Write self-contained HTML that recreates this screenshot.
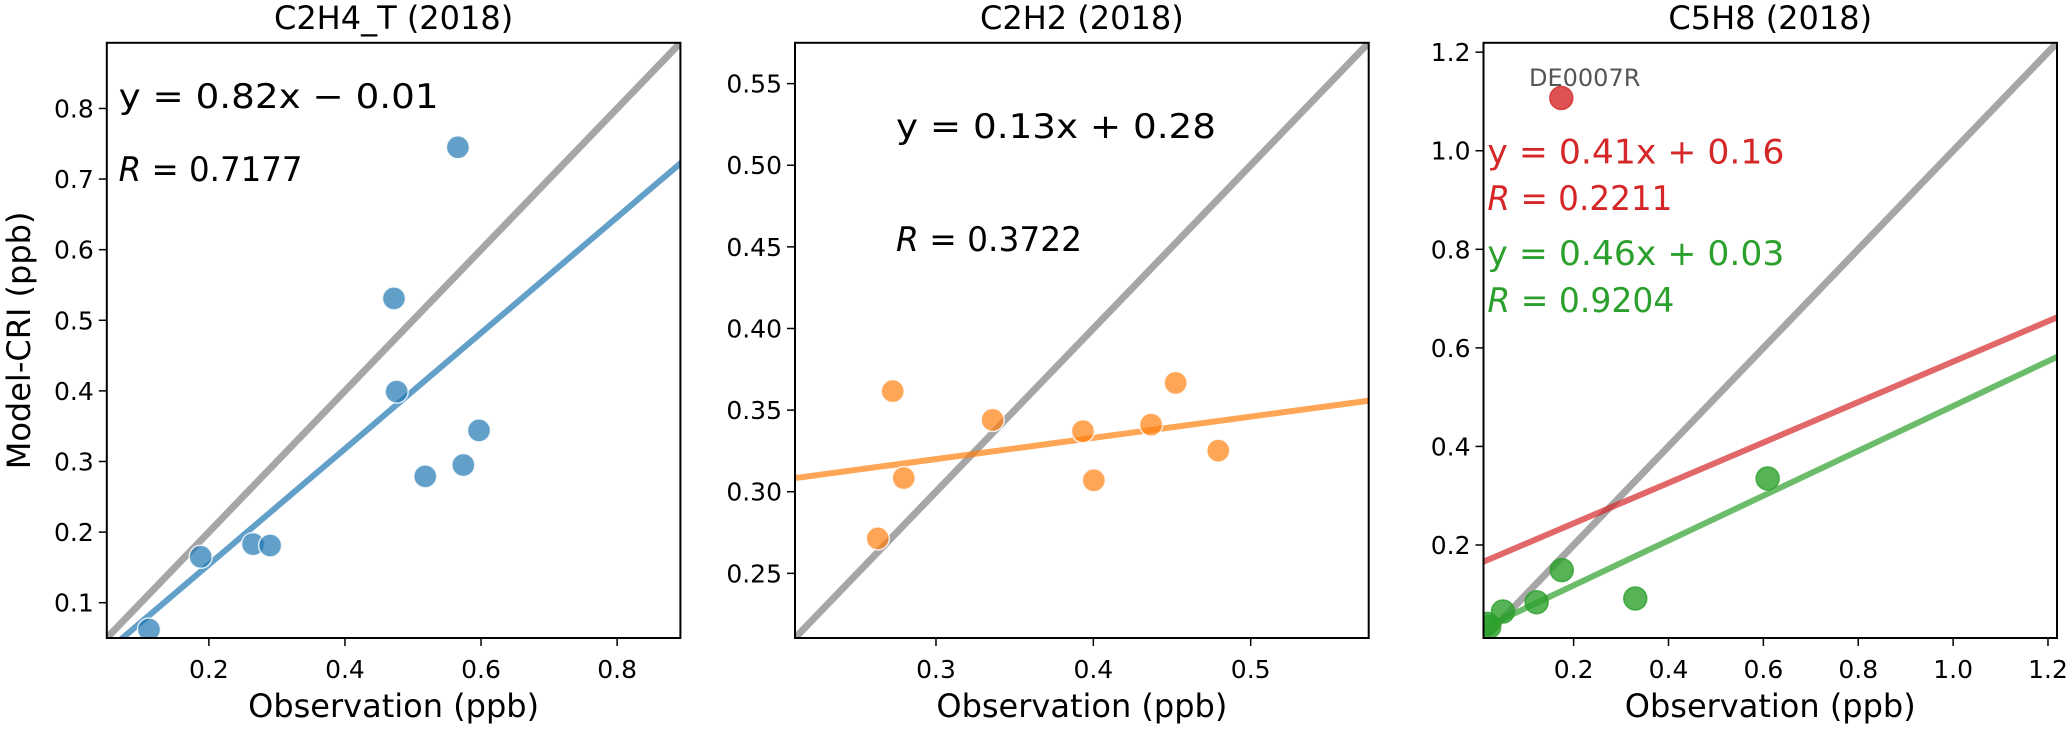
<!DOCTYPE html>
<html><head><meta charset="utf-8"><style>
html,body{margin:0;padding:0;background:#fff;width:2067px;height:729px;overflow:hidden;}
svg{display:block;font-family:"DejaVu Sans","Liberation Sans",sans-serif;overflow:hidden;}
</style></head><body>
<svg id="fig" width="2067" height="729" viewBox="0 0 2067 729" xmlns="http://www.w3.org/2000/svg"></svg>
<script>
// Panel 1: C2H4_T
const p1ObsX = [0.566,0.472,0.476,0.597,0.574,0.518,0.188,0.265,0.290,0.112];
const p1ModY = [0.745,0.531,0.399,0.344,0.295,0.279,0.165,0.183,0.181,0.062];
const p1Fit = [0.82,-0.01];
const p1Ticks = [0.1,0.2,0.3,0.4,0.5,0.6,0.7,0.8];
const p1XTicks = [0.2,0.4,0.6,0.8];
// Panel 2: C2H2
const p2ObsX = [0.2725,0.2795,0.263,0.336,0.3934,0.4003,0.4367,0.4523,0.4794];
const p2ModY = [0.3616,0.3084,0.2714,0.344,0.3371,0.307,0.3411,0.3667,0.3252];
const p2Fit = [0.13,0.281];
const p2Ticks = [0.25,0.30,0.35,0.40,0.45,0.50,0.55];
const p2XTicks = [0.3,0.4,0.5];
// Panel 3: C5H8
const p3OutX = [0.174];
const p3OutY = [1.107];
const p3ObsX = [0.609,0.175,0.33,0.122,0.051,0.022,0.018];
const p3ModY = [0.335,0.149,0.0915,0.0839,0.065,0.034,0.04];
const p3FitRed = [0.41,0.162];
const p3FitGreen = [0.455,0.027];
const p3Ticks = [0.2,0.4,0.6,0.8,1.0,1.2];
const p3XTicks = [0.2,0.4,0.6,0.8,1.0,1.2];

const NS="http://www.w3.org/2000/svg";
const svg=document.getElementById('fig');
function mk(tag,attrs,parent){const e=document.createElementNS(NS,tag);for(const k in attrs)e.setAttribute(k,attrs[k]);(parent||svg).appendChild(e);return e;}
const TOP=42.8,BOT=638;
function panel(id,left,right,xlim,ylim,title,yTicks,xTicks,dec,showYLabel){
  const g=mk('g',{});
  
  
  const sx=v=>left+(v-xlim[0])/(xlim[1]-xlim[0])*(right-left);
  const sy=v=>BOT-(v-ylim[0])/(ylim[1]-ylim[0])*(BOT-TOP);
  const cid='clip-'+id;
  const cp=mk('clipPath',{id:cid},g);mk('rect',{x:left,y:TOP,width:right-left,height:BOT-TOP},cp);
  const plot=mk('g',{'clip-path':'url(#'+cid+')'},g);
  const t=mk('text',{x:(left+right)/2,y:29,'text-anchor':'middle','font-size':32,fill:'#000'},g);
  t.textContent=title;
  
  
  yTicks.forEach(v=>{
    const y=sy(v);
    mk('line',{x1:left-8,x2:left,y1:y,y2:y,stroke:'#000','stroke-width':1.5},g);
    const tl=mk('text',{x:left-13,y:y+9,'text-anchor':'end','font-size':25,fill:'#000'},g);
    tl.textContent=v.toFixed(dec);
    
    
  });
  xTicks.forEach(v=>{
    const x=sx(v);
    mk('line',{x1:x,x2:x,y1:BOT,y2:BOT+8,stroke:'#000','stroke-width':1.5},g);
    const tl=mk('text',{x:x,y:678,'text-anchor':'middle','font-size':25,fill:'#000'},g);
    tl.textContent=v.toFixed(1);
    
    
  });
  const xl=mk('text',{x:(left+right)/2,y:717,'text-anchor':'middle','font-size':32,fill:'#000'},g);
  xl.textContent='Observation (ppb)';
  
  
  if(showYLabel){
    const yl=mk('text',{x:0,y:0,'text-anchor':'middle','font-size':32,fill:'#000',transform:'translate(30,'+((TOP+BOT)/2)+') rotate(-90)'},g);
    yl.textContent='Model-CRI (ppb)';
    
    
  }
  const one=mk('line',{x1:sx(xlim[0]-1),y1:sy(xlim[0]-1),x2:sx(xlim[1]+1),y2:sy(xlim[1]+1),stroke:'#808080','stroke-opacity':0.7,'stroke-width':7},plot);
  
  
  return {g,plot,sx,sy,left,right,xlim};
}
function fitLine(P,fit,color,name){
  const x0=P.xlim[0]-0.5,x1=P.xlim[1]+0.5;
  const l=mk('line',{x1:P.sx(x0),y1:P.sy(fit[0]*x0+fit[1]),x2:P.sx(x1),y2:P.sy(fit[0]*x1+fit[1]),stroke:color,'stroke-opacity':0.7,'stroke-width':6},P.plot);
  
  
}
function points(P,xs,ys,color,edge,op,name){
  xs.forEach((x,i)=>{
    const c=mk('circle',{cx:P.sx(x),cy:P.sy(ys[i]),r:11.5,fill:color,'fill-opacity':op,stroke:edge,'stroke-width':1.5,'stroke-opacity':edge==='#fff'?0.8:op},P.plot);
    
    
  });
}
function txt(P,x,y,parts,color,len,name){
  const t=mk('text',{x:x,y:y,'font-size':34,fill:color,textLength:len,lengthAdjust:'spacingAndGlyphs'},P.g);
  parts.forEach(p=>{const s=mk('tspan',p[1]?{'font-style':'italic'}:{},t);s.textContent=p[0];});
  
  
}
// Panel 1
const P1=panel('panel-c2h4',106.8,680.4,[0.05,0.893],[0.05,0.893],'C2H4_T (2018)',p1Ticks,p1XTicks,1,true);
fitLine(P1,p1Fit,'#1f77b4','regression-line');
points(P1,p1ObsX,p1ModY,'#1f77b4','#fff',0.7,'data-point');
txt(P1,118.6,108,[['y = 0.82x \u2212 0.01',false]],'#000',320,'regression-equation');
txt(P1,118.6,181,[['R',true],[' = 0.7177',false]],'#000',184,'correlation-r');
// Panel 2
const P2=panel('panel-c2h2',795,1368.7,[0.2104,0.575],[0.2104,0.575],'C2H2 (2018)',p2Ticks,p2XTicks,2,false);
fitLine(P2,p2Fit,'#ff7f0e','regression-line');
points(P2,p2ObsX,p2ModY,'#ff7f0e','#fff',0.7,'data-point');
txt(P2,896,138,[['y = 0.13x + 0.28',false]],'#000',320,'regression-equation');
txt(P2,896,251,[['R',true],[' = 0.3722',false]],'#000',186,'correlation-r');
// Panel 3
const P3=panel('panel-c5h8',1483.5,2057,[0.01,1.219],[0.0113,1.219],'C5H8 (2018)',p3Ticks,p3XTicks,1,false);
fitLine(P3,p3FitRed,'#d62728','regression-line-all');
fitLine(P3,p3FitGreen,'#2ca02c','regression-line-excl-outlier');
points(P3,p3OutX,p3OutY,'#d62728','#d62728',0.8,'outlier-point');
points(P3,p3ObsX,p3ModY,'#2ca02c','#2ca02c',0.8,'data-point');
const lab=mk('text',{x:1529,y:86,'font-size':24,fill:'#555'},P3.g);
lab.textContent='DE0007R';


txt(P3,1487.4,163.6,[['y = 0.41x + 0.16',false]],'#d62728',297,'red-regression-equation');
txt(P3,1487.4,210,[['R',true],[' = 0.2211',false]],'#d62728',185,'red-correlation-r');
txt(P3,1487.4,265,[['y = 0.46x + 0.03',false]],'#2ca02c',297,'green-regression-equation');
txt(P3,1487.4,312,[['R',true],[' = 0.9204',false]],'#2ca02c',187,'green-correlation-r');
// spines on top
[P1,P2,P3].forEach(P=>{
  const r=mk('rect',{x:P.left,y:TOP,width:P.right-P.left,height:BOT-TOP,fill:'none',stroke:'#000','stroke-width':2},P.g);
  
  
});
</script>
</body></html>
